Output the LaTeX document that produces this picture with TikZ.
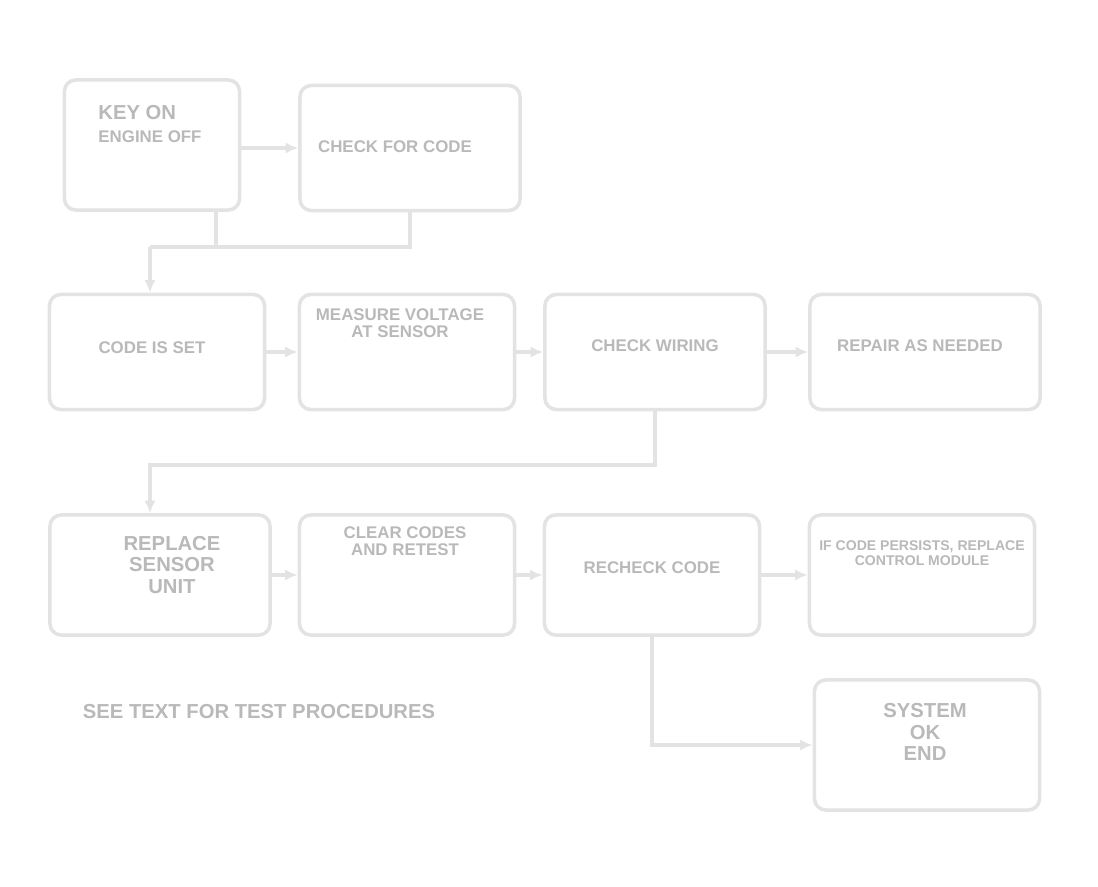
\documentclass[tikz,border=0pt]{standalone}
\usepackage{fontspec}
\setmainfont{Liberation Sans}
\usetikzlibrary{arrows.meta,calc}

\begin{document}
\begin{tikzpicture}[x=0.025cm,y=-0.025cm,
  box/.style={draw=gray!22,line width=2.5pt,rounded corners=8pt,fill=white},
  txt/.style={text=gray!55,font=\bfseries\large,align=center},
  wire/.style={draw=gray!22,line width=2.5pt},
  link/.style={wire,-{Latex[length=9pt,width=8pt]}}]
  \useasboundingbox (0,0) rectangle (1098,887);
  % Top row
  \node[box,minimum width=4.375cm,minimum height=3.25cm] (A) at (152,145) {};
  \node[box,minimum width=5.5cm,minimum height=3.125cm] (B) at (410,148) {};
  \node[txt,font=\bfseries\Large,align=left] (At) at (150,124) {KEY ON\\[-2pt]\large ENGINE OFF};
  \node[txt] (Bt) at (395,147) {CHECK FOR CODE};
  % Middle row
  \node[box,minimum width=5.375cm,minimum height=2.875cm] (C) at (157,352) {};
  \node[box,minimum width=5.375cm,minimum height=2.875cm] (D) at (407,352) {};
  \node[box,minimum width=5.5cm,minimum height=2.875cm] (E) at (655,352) {};
  \node[box,minimum width=5.75cm,minimum height=2.875cm] (F) at (925,352) {};
  \node[txt] (Ct) at (152,348) {CODE IS SET};
  \node[txt,anchor=north] (Dt) at (400,304) {MEASURE VOLTAGE\\[-2pt]AT SENSOR};
  \node[txt] (Et) at (655,346) {CHECK WIRING};
  \node[txt] (Ft) at (920,346) {REPAIR AS NEEDED};
  % Bottom row
  \node[box,minimum width=5.5cm,minimum height=3cm] (G) at (160,575) {};
  \node[box,minimum width=5.375cm,minimum height=3cm] (H) at (407,575) {};
  \node[box,minimum width=5.375cm,minimum height=3cm] (I) at (652,575) {};
  \node[box,minimum width=5.625cm,minimum height=3cm] (J) at (922,575) {};
  \node[txt,font=\bfseries\Large] (Gt) at (172,565) {REPLACE\\[-3pt]SENSOR\\[-3pt]UNIT};
  \node[txt,anchor=north] (Ht) at (405,522) {CLEAR CODES\\[-2pt]AND RETEST};
  \node[txt] (It) at (652,568) {RECHECK CODE};
  \node[txt,font=\bfseries] (Jt) at (922,553) {IF CODE PERSISTS, REPLACE\\[-1pt]CONTROL MODULE};
  % Last box and note
  \node[box,minimum width=5.625cm,minimum height=3.25cm] (K) at (927,745) {};
  \node[txt,font=\bfseries\Large] (Kt) at (925,732) {SYSTEM\\[-3pt]OK\\[-3pt]END};
  \node[txt,font=\bfseries\Large,anchor=west] (note) at (78,712) {SEE TEXT FOR TEST PROCEDURES};
  % Arrows along the rows
  \draw[link] (A.east |- B.west) -- (B.west);
  \draw[link] (C) -- (D);
  \draw[link] (D) -- (E);
  \draw[link] (E) -- (F);
  \draw[link] (G) -- (H);
  \draw[link] (H) -- (I);
  \draw[link] (I) -- (J);
  % From the top boxes down to the middle row
  \coordinate (busAB) at (150,247);
  \draw[wire] ([xshift=1.6cm]A.south) -- ([xshift=1.6cm]A.south |- busAB);
  \draw[wire] (B.south) |- (busAB);
  \draw[link] (busAB) -- (busAB |- C.north);
  % From the middle row down to the bottom row
  \coordinate (busEG) at (150,465);
  \draw[link] (E.south) |- (busEG) -- (busEG |- G.north);
  % From the bottom row to the last box
  \draw[link] (I.south) |- (K.west);
\end{tikzpicture}
\end{document}
